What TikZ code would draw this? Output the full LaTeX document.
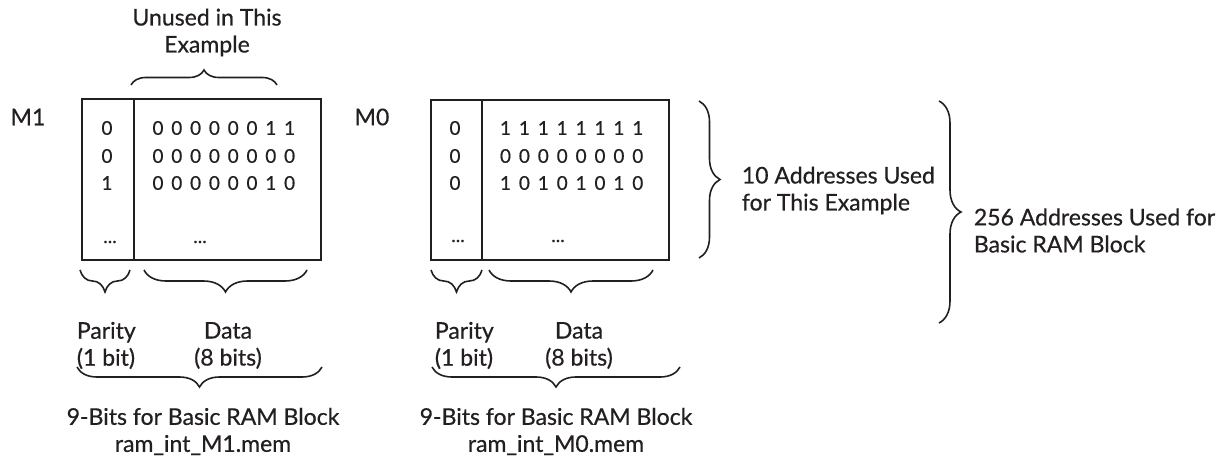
\documentclass[tikz,border=0pt]{standalone}
\usepackage{fontspec}
\setmainfont{Lato}[FakeBold=0.5]
\usetikzlibrary{decorations.pathreplacing}
\definecolor{ink}{HTML}{231F20}
\begin{document}
\begin{tikzpicture}[x=1pt,y=-1pt, line width=1.8pt, draw=ink, text=ink,
 lbl/.style={font=\fontsize{23}{27}\selectfont, inner sep=0pt, align=center},
 dig/.style={font=\fontsize{19}{20}\selectfont, inner sep=0pt},
 br/.style={decorate, decoration={brace, amplitude=#1pt}, line width=1.6pt},
 memorybox/.style={draw, inner sep=0pt}]
\useasboundingbox (0,0) rectangle (1226,457);

% ---------- M1 ----------
\node[lbl] (m1lab) at (28,117) {M1};
\node[memorybox, minimum width=239pt, minimum height=161pt] (box1) at (201.5,179.5) {};
\draw (134,99) -- (134,260);
\node[dig] (p1a) at (107,128) {0};
\node[dig] (p1b) at (107,156) {0};
\node[dig] (p1c) at (107,183) {1};
\node[dig] (p1d) at (110,242) {...};
\foreach \d [count=\i] in {0,0,0,0,0,0,1,1} \node[dig] (aa\i) at ({158+18.8*(\i-1)},128) {\d};
\foreach \d [count=\i] in {0,0,0,0,0,0,0,0} \node[dig] (ab\i) at ({158+18.8*(\i-1)},156) {\d};
\foreach \d [count=\i] in {0,0,0,0,0,0,1,0} \node[dig] (ac\i) at ({158+18.8*(\i-1)},183) {\d};
\node[dig] (ad) at (200,242) {...};

\draw[br=15] (131,85) -- (277,85);
\node[lbl] (unused) at (207,32.5) {Unused in This\\Example};

\draw[br=22] (130,270) -- (80,270);
\draw[br=22] (307,270) -- (144,270);
\node[lbl, anchor=west, align=left] (par1) at (76,345.5) {Parity\\(1 bit)};
\node[lbl] (dat1) at (228,345.5) {Data\\(8 bits)};
\draw[br=20] (322,367) -- (77,367);
\node[lbl] (file1) at (203,431.5) {9-Bits for Basic RAM Block\\ram\_int\_M1.mem};

% ---------- M0 ----------
\node[lbl] (m0lab) at (372,117) {M0};
\node[memorybox, minimum width=238pt, minimum height=160pt] (box0) at (550,180) {};
\draw (482,100) -- (482,260);
\node[dig] (p0a) at (455,128) {0};
\node[dig] (p0b) at (455,156) {0};
\node[dig] (p0c) at (455,183) {0};
\node[dig] (p0d) at (458,241) {...};
\foreach \d [count=\i] in {1,1,1,1,1,1,1,1} \node[dig] (ba\i) at ({505.5+18.9*(\i-1)},128) {\d};
\foreach \d [count=\i] in {0,0,0,0,0,0,0,0} \node[dig] (bb\i) at ({505.5+18.9*(\i-1)},156) {\d};
\foreach \d [count=\i] in {1,0,1,0,1,0,1,0} \node[dig] (bc\i) at ({505.5+18.9*(\i-1)},183) {\d};
\node[dig] (bd) at (558,241) {...};

\draw[br=22] (482,270) -- (431,270);
\draw[br=22] (653,270) -- (489,270);
\node[lbl, anchor=west, align=left] (par0) at (434,345.5) {Parity\\(1 bit)};
\node[lbl] (dat0) at (579,345.5) {Data\\(8 bits)};
\draw[br=20] (680,367) -- (432,367);
\node[lbl] (file0) at (556,431.5) {9-Bits for Basic RAM Block\\ram\_int\_M0.mem};

% ---------- address braces ----------
\draw[br=21] (699,101) -- (699,258);
\node[lbl, anchor=west, align=left] (ten) at (741,190.5) {10 Addresses Used\\for This Example};
\draw[br=22] (939,101) -- (939,323);
\node[lbl, anchor=west, align=left] (all) at (973,230.5) {256 Addresses Used for\\Basic RAM Block};
\end{tikzpicture}
\end{document}
